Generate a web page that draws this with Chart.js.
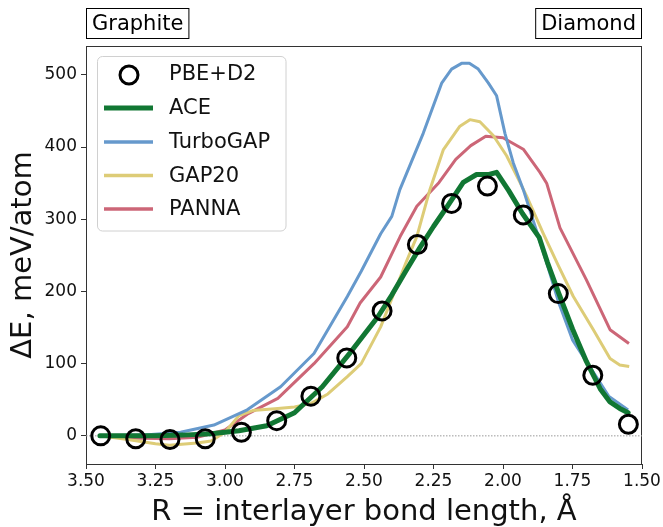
<!DOCTYPE html>
<html><head><meta charset="utf-8">
<script src="https://cdn.jsdelivr.net/npm/chart.js@4.4.0/dist/chart.umd.min.js"></script>
<style>html,body{margin:0;padding:0;background:#fff;}canvas{display:block;}</style>
</head><body>
<canvas id="c" width="663" height="527"></canvas>
<script>
// ---- data ----
const xTicks = [3.50, 3.25, 3.00, 2.75, 2.50, 2.25, 2.00, 1.75, 1.50];
const yTicks = [0, 100, 200, 300, 400, 500];
const seriesNames = ['PBE+D2', 'ACE', 'TurboGAP', 'GAP20', 'PANNA'];
const phaseLabels = ['Graphite', 'Diamond'];

const pbeR = [3.447, 3.321, 3.198, 3.071, 2.941, 2.814, 2.691, 2.562, 2.435, 2.308, 2.185, 2.056, 1.927, 1.801, 1.677, 1.549];
const pbeE = [0, -4, -5, -4, 5, 21, 55, 108, 173, 265, 322, 346, 306, 197, 84, 16];

const aceR = [3.45, 3.35, 3.25, 3.15, 3.05, 2.95, 2.85, 2.75, 2.65, 2.55, 2.45, 2.40, 2.35, 2.30, 2.25, 2.20, 2.143, 2.095, 2.05, 2.023, 1.98, 1.93, 1.87, 1.84, 1.80, 1.75, 1.70, 1.65, 1.615, 1.58, 1.55];
const aceE = [0, 0, 0, 1, 3, 7, 14, 32, 68, 115, 165, 195, 228, 260, 290, 318, 351, 362, 362, 365, 340, 308, 275, 240, 198, 148, 103, 65, 47, 38, 32];

const turboR = [3.45, 3.30, 3.16, 3.04, 2.92, 2.80, 2.68, 2.56, 2.51, 2.44, 2.40, 2.371, 2.287, 2.22, 2.185, 2.149, 2.121, 2.089, 2.053, 2.023, 1.993, 1.963, 1.927, 1.843, 1.80, 1.75, 1.68, 1.62, 1.55];
const turboE = [0, 1, 5, 15, 36, 68, 114, 193, 228, 280, 304, 341, 419, 489, 508, 516, 516, 508, 489, 471, 419, 378, 341, 240, 185, 133, 91, 55, 36];

const gap20R = [3.45, 3.35, 3.25, 3.20, 3.10, 3.05, 3.00, 2.95, 2.90, 2.81, 2.75, 2.69, 2.63, 2.56, 2.51, 2.44, 2.40, 2.35, 2.31, 2.263, 2.215, 2.155, 2.119, 2.083, 2.035, 1.987, 1.939, 1.915, 1.855, 1.80, 1.747, 1.675, 1.615, 1.58, 1.546];
const gap20E = [0, -5, -11, -13, -10, -7, 5, 28, 35, 38, 40, 45, 58, 82, 100, 151, 190, 239, 276, 341, 396, 429, 438, 435, 416, 388, 351, 332, 280, 235, 193, 147, 107, 98, 96];

const pannaR = [3.45, 3.35, 3.20, 3.10, 3.00, 2.92, 2.81, 2.68, 2.56, 2.514, 2.44, 2.37, 2.31, 2.23, 2.17, 2.116, 2.062, 2.00, 1.927, 1.867, 1.843, 1.795, 1.70, 1.615, 1.547];
const pannaE = [0, -3, -4, -2, 8, 30, 52, 100, 151, 184, 220, 276, 318, 351, 383, 402, 415, 413, 397, 365, 350, 288, 216, 147, 128];

const zeroR = [3.5, 1.5];
const zeroE = [0, 0];

// ---- styles ----
const colors = ['#000000', '#117733', '#6699CC', '#DDCC77', '#CC6677'];
const widths = [3, 5, 3, 3, 3];
const FONT = 'DejaVu Sans';

const pts = (xs, ys) => xs.map((x, i) => ({x: x, y: ys[i]}));

const datasets = [
  {label: seriesNames[0], data: pts(pbeR, pbeE), showLine: false, pointRadius: 9, pointHoverRadius: 9,
   pointBorderWidth: 3, pointBorderColor: colors[0], pointBackgroundColor: 'rgba(0,0,0,0)'},
  {label: seriesNames[1], data: pts(aceR, aceE), showLine: true, borderColor: colors[1], borderWidth: widths[1], pointRadius: 0, borderJoinStyle: 'round', borderCapStyle: 'round'},
  {label: seriesNames[2], data: pts(turboR, turboE), showLine: true, borderColor: colors[2], borderWidth: widths[2], pointRadius: 0, borderJoinStyle: 'round'},
  {label: seriesNames[3], data: pts(gap20R, gap20E), showLine: true, borderColor: colors[3], borderWidth: widths[3], pointRadius: 0, borderJoinStyle: 'round'},
  {label: seriesNames[4], data: pts(pannaR, pannaE), showLine: true, borderColor: colors[4], borderWidth: widths[4], pointRadius: 0, borderJoinStyle: 'round'},
  {label: 'zero', data: pts(zeroR, zeroE), showLine: true, borderColor: '#999999', borderWidth: 1, borderDash: [1.5, 1.5], pointRadius: 0}
];

const extras = {
  id: 'extras',
  beforeDatasetsDraw(chart) {
    const {ctx, chartArea: a} = chart;
    ctx.save();
    ctx.strokeStyle = '#333';
    ctx.lineWidth = 1;
    ctx.strokeRect(a.left + 0.5, a.top + 0.5, a.right - a.left - 1, a.bottom - a.top);
    // phase labels
    ctx.font = '21px "' + FONT + '"';
    ctx.textBaseline = 'middle';
    ctx.fillStyle = '#000';
    const padX = 6, top = 8, h = 31;
    phaseLabels.forEach((t, i) => {
      const w = ctx.measureText(t).width + 2 * padX;
      const x0 = i === 0 ? a.left : a.right - w;
      ctx.fillStyle = '#fff';
      ctx.fillRect(x0, top, w, h);
      ctx.strokeStyle = '#000';
      ctx.strokeRect(x0 + 0.5, top + 0.5, w - 1, h - 1);
      ctx.fillStyle = '#000';
      ctx.textAlign = 'left';
      ctx.fillText(t, x0 + padX, top + h / 2 + 1);
    });
    ctx.restore();
  },
  afterDraw(chart) {
    const {ctx} = chart;
    ctx.save();
    // legend box
    const bx = 97.5, by = 56.5, bw = 188.5, bh = 174.5, r = 5;
    ctx.beginPath();
    ctx.moveTo(bx + r, by);
    ctx.arcTo(bx + bw, by, bx + bw, by + bh, r);
    ctx.arcTo(bx + bw, by + bh, bx, by + bh, r);
    ctx.arcTo(bx, by + bh, bx, by, r);
    ctx.arcTo(bx, by, bx + bw, by, r);
    ctx.closePath();
    ctx.fillStyle = 'rgba(255,255,255,0.8)';
    ctx.fill();
    ctx.strokeStyle = '#d0d0d0';
    ctx.lineWidth = 1;
    ctx.stroke();
    const rows = [74, 108, 142, 175.5, 209];
    ctx.font = '21px "' + FONT + '"';
    ctx.textBaseline = 'middle';
    ctx.textAlign = 'left';
    seriesNames.forEach((name, i) => {
      const y = rows[i];
      if (i === 0) {
        ctx.beginPath();
        ctx.arc(129, y + 1, 9, 0, Math.PI * 2);
        ctx.strokeStyle = colors[0];
        ctx.lineWidth = 3;
        ctx.stroke();
      } else {
        ctx.beginPath();
        ctx.moveTo(104, y);
        ctx.lineTo(153, y);
        ctx.strokeStyle = colors[i];
        ctx.lineWidth = widths[i] + (i === 1 ? 0 : 0.5);
        ctx.stroke();
      }
      ctx.fillStyle = '#111';
      ctx.fillText(name, 169, y + 1);
    });
    ctx.restore();
  }
};

new Chart(document.getElementById('c'), {
  type: 'scatter',
  data: {datasets: datasets},
  plugins: [extras],
  options: {
    responsive: false,
    animation: false,
    events: [],
    layout: {padding: {top: 46, right: 21, left: 0, bottom: 0}},
    plugins: {legend: {display: false}, tooltip: {enabled: false}},
    scales: {
      x: {
        type: 'linear', reverse: true, min: 1.5, max: 3.5,
        afterFit: s => { s.height = 63; },
        afterBuildTicks: s => { s.ticks = xTicks.map(v => ({value: v})); },
        ticks: {font: {family: FONT, size: 17}, color: '#111', padding: 2,
                callback: v => Number(v).toFixed(2), maxRotation: 0, autoSkip: false},
        grid: {display: true, drawOnChartArea: false, drawTicks: true, tickLength: 5, tickColor: '#333'},
        border: {display: true, color: '#333', width: 1},
        title: {display: true, text: 'R = interlayer bond length, Å', font: {family: FONT, size: 29, lineHeight: 1.0}, color: '#111', padding: {top: 0, bottom: 0}}
      },
      y: {
        type: 'linear', min: -39, max: 540,
        afterFit: s => { s.width = 86; },
        afterBuildTicks: s => { s.ticks = yTicks.map(v => ({value: v})); },
        ticks: {font: {family: FONT, size: 17}, color: '#111', padding: 4, autoSkip: false},
        grid: {display: true, drawOnChartArea: false, drawTicks: true, tickLength: 5, tickColor: '#333'},
        border: {display: true, color: '#333', width: 1},
        title: {display: true, text: 'ΔE, meV/atom', font: {family: FONT, size: 29}, color: '#111', padding: {top: 6, bottom: 0}}
      }
    }
  }
});
</script>
</body></html>
